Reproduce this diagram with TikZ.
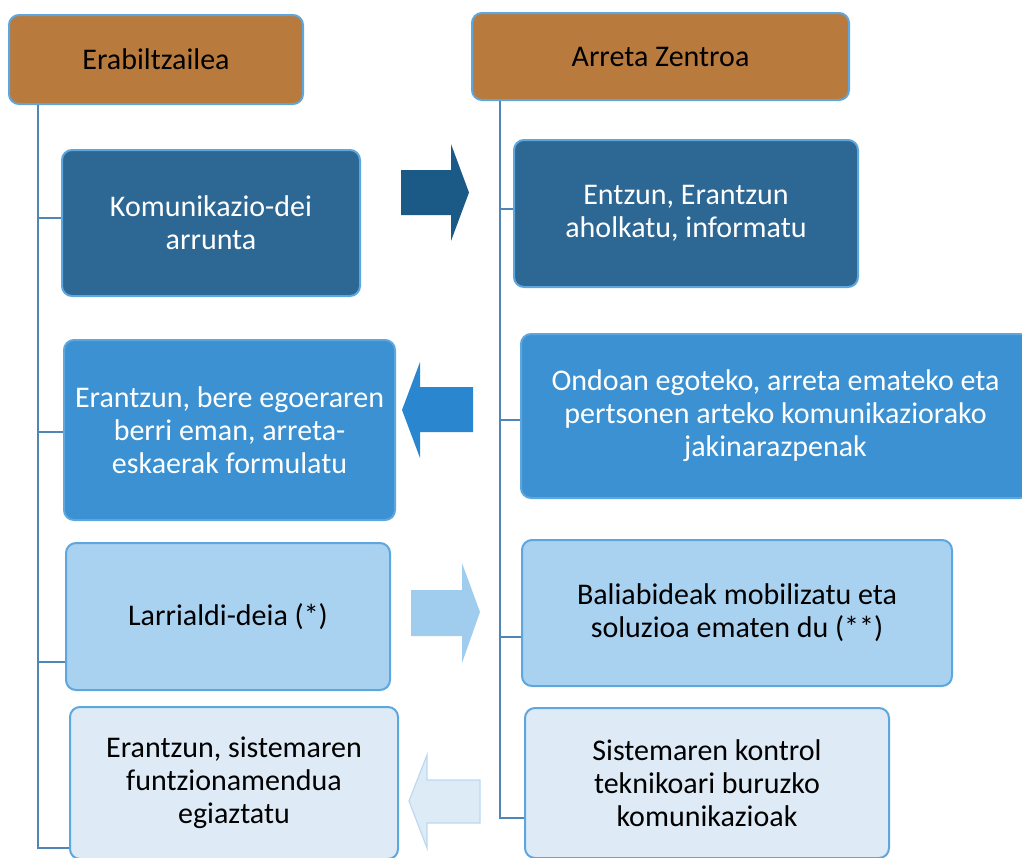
\documentclass[tikz,border=0pt]{standalone}
\usepackage{fontspec}
\setmainfont{Carlito}
\usetikzlibrary{positioning}
\definecolor{hdrbrown}{HTML}{B87B3D}
\definecolor{edgeblue}{HTML}{5EA6DE}
\definecolor{treeblue}{HTML}{4F86B5}
\definecolor{lvlA}{HTML}{2D6794}
\definecolor{lvlB}{HTML}{3B91D1}
\definecolor{lvlC}{HTML}{A9D1F0}
\definecolor{lvlD}{HTML}{DEEBF7}
\definecolor{arrA}{HTML}{1B5A87}
\definecolor{arrB}{HTML}{2A86CE}
\definecolor{arrC}{HTML}{A0CDEE}
\definecolor{arrD}{HTML}{DDEBF7}
\definecolor{arrDedge}{HTML}{BDD8F0}

\begin{document}
\begin{tikzpicture}[x=1pt,y=-1pt,
    box/.style={draw=edgeblue,line width=2pt,rounded corners=10pt,align=center,
      font=\fontsize{30}{33}\selectfont,inner sep=0pt},
    hdr/.style={box,fill=hdrbrown,text=black},
    dark/.style={box,fill=lvlA,text=white},
    mid/.style={box,fill=lvlB,text=white},
    pale/.style={box,fill=lvlC,text=black},
    faint/.style={box,fill=lvlD,text=black},
    tree/.style={treeblue,line width=2.5pt}]
    \useasboundingbox (0,0) rectangle (1022,857);
    \clip (0,0) rectangle (1022,857);

    % headers
    \node[hdr,minimum width=294pt,minimum height=89pt] (user) at (156,59.5) {Erabiltzailea};
    \node[hdr,minimum width=377pt,minimum height=87pt] (centre) at (660.5,56.5) {Arreta Zentroa};

    % left column
    \node[dark,minimum width=298pt,minimum height=146pt] (callL) at (211,223) {Komunikazio-dei\\arrunta};
    \node[mid,minimum width=331pt,minimum height=180pt] (replyL) at (229.5,430) {Erantzun, bere egoeraren\\berri eman, arreta-\\eskaerak formulatu};
    \node[pale,minimum width=324pt,minimum height=147pt] (alarmL) at (228,616.5) {Larrialdi-deia (*)};
    \node[faint,minimum width=328pt,minimum height=152pt] (checkL) at (234,783) {Erantzun, sistemaren\\funtzionamendua\\egiaztatu};

    % right column
    \node[dark,minimum width=344pt,minimum height=147pt] (callR) at (686,213.5) {Entzun, Erantzun\\aholkatu, informatu};
    \node[mid,minimum width=509pt,minimum height=164pt] (replyR) at (775.5,416) {Ondoan egoteko, arreta emateko eta\\pertsonen arteko komunikaziorako\\jakinarazpenak};
    \node[pale,minimum width=430pt,minimum height=146pt] (alarmR) at (737,613) {Baliabideak mobilizatu eta\\soluzioa ematen du (**)};
    \node[faint,minimum width=364pt,minimum height=150pt] (checkR) at (707,783) {Sistemaren kontrol\\teknikoari buruzko\\komunikazioak};

    % trees
    \coordinate (sL) at (38,0);
    \coordinate (sR) at (500,0);
    \draw[tree] (sL |- user.south) -- (sL |- 0,848) -- (checkL.west |- 0,848);
    \draw[tree] (sL |- 0,218) -- (callL.west |- 0,218);
    \draw[tree] (sL |- 0,432) -- (replyL.west |- 0,432);
    \draw[tree] (sL |- 0,662) -- (alarmL.west |- 0,662);
    \draw[tree] (sR |- centre.south) -- (sR |- 0,818) -- (checkR.west |- 0,818);
    \draw[tree] (sR |- 0,209) -- (callR.west |- 0,209);
    \draw[tree] (sR |- 0,420) -- (replyR.west |- 0,420);
    \draw[tree] (sR |- 0,637) -- (alarmR.west |- 0,637);

    % block arrows
    \fill[arrA] (401,170) -- (451,170) -- (451,144) -- (469,192.5) -- (451,241) -- (451,215) -- (401,215) -- cycle;
    \fill[arrB] (473,387) -- (420,387) -- (420,362) -- (402,410) -- (420,458) -- (420,432) -- (473,432) -- cycle;
    \fill[arrC] (411,590) -- (462,590) -- (462,563) -- (480,612) -- (462,663) -- (462,636) -- (411,636) -- cycle;
    \filldraw[fill=arrD,draw=arrDedge,line width=1.2pt] (480,780) -- (427,780) -- (427,755) -- (409,801) -- (427,848) -- (427,823) -- (480,823) -- cycle;
\end{tikzpicture}
\end{document}
